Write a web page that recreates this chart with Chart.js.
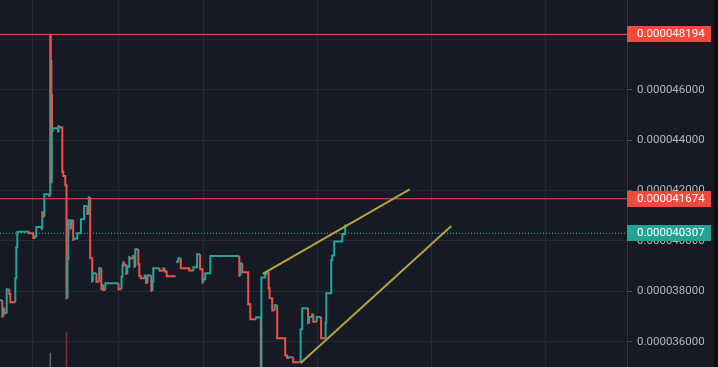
<!DOCTYPE html>
<html>
<head>
<meta charset="utf-8">
<script src="https://cdn.jsdelivr.net/npm/chart.js@4.4.1/dist/chart.umd.min.js"></script>
<style>
  html, body { margin: 0; padding: 0; background: #161a25; }
  canvas { display: block; }
</style>
</head>
<body>
<canvas id="chart" width="718" height="367"></canvas>
<script>
// prices are kept in units of 1e-9
const stepTimes = [
    0, 2.3, 3.3, 4.3, 6.7, 9.3, 10.3, 15.3, 16.3, 17.3,
    29.3, 33.3, 35.3, 36.3, 41.7, 42.3, 43, 44.3, 49.3, 50.3,
    50.7, 51, 51.4, 51.7, 52, 52.7, 58, 58.6, 59.6, 62.3,
    63.3, 65.3, 66.5, 67.5, 68.2, 70.3, 71.3, 73.2, 74.2, 77.3,
    80.9, 84.1, 87.3, 88.8, 90.2, 92.2, 92.8, 96.4, 99.2, 101.3,
    102.3, 103.3, 105.3, 118.5, 121.5, 122.5, 123.3, 124.3, 126.3, 127.3,
    129.3, 130.2, 133.2, 134.5, 135.3, 138.3, 139.3, 140.7, 144.7, 146,
    147.5, 151.3, 152.5, 153.3, 159.5, 163.3, 164.7, 166.7, 175.7, 176,
    178.3, 180.8, 189.2, 193.5, 197.1, 200.1, 202.5, 203.3, 205.2, 210.3,
    239.3, 240.3, 242.3, 248.2, 250.3, 256.1, 260.8, 261.4, 265.2,
    266.4, 268.6, 269.6, 272.2, 274.7, 277.2, 285.2, 287.2, 289, 293.2,
    300.6, 302.2, 308.1, 309.2, 312.2, 313.3, 316.7, 321.1, 325.6, 326.3,
    331.2, 332.2, 334.2, 342.3, 345.2
];
const stepPrices = [
    37647, 36996, 37330, 37131, 38083, 37897, 37568, 38520, 39750, 40369,
    40306, 40119, 40186, 40556, 40464, 41139, 40964, 41853, 41786, 48194,
    42301, 47182, 42301, 45833, 44337, 44472, 44337, 44563, 44512, 42750,
    42579, 42210, 37726, 39274, 40821, 40488, 40821, 40040, 40099, 40306,
    40861, 41389, 41071, 41734, 39314, 38385, 38718, 38385, 38917, 38083,
    38266, 38056, 38322, 38087, 38583, 39028, 39155, 39036, 38691, 38980,
    39377, 39306, 39405, 38968, 39671, 39075, 38611, 38520, 38631, 38333,
    38631, 38028, 38385, 38917, 38822, 38917, 38790, 38599, null, 39179,
    39314, 38917, 38829, 38956, 39472, 38877, 38345, 38480, 38718, 39400,
    38623, 39115, 38758, 37492, 36893, 36972, 34300, 38552, 38691,
    38770, 38123, 37726, 37242, 37449, 36139, 35457, 35357, 35385, 35187,
    36496, 37330, 36734, 36984, 37091, 36798, 36984, 36139, 36766, 37925,
    39234, 39425, 39980, 40278, 40615
];
const lastTime = 347.3;

const priceTicks = [36000, 38000, 40000, 42000, 44000, 46000, 48000];
const timeGrid = [32, 118, 203, 317, 431, 545];

const levelHigh = 48194;
const levelMid = 41674;
const lastPrice = 40307;

const trendUpper = [{ x: 262.7, y: 38691 }, { x: 409.7, y: 42051 }];
const trendLower = [{ x: 300.7, y: 35159 }, { x: 451.3, y: 40595 }];

const volTimes = [50.3, 66.5];
const volValues = [3.8, 9.5];
const volColors = ['#5d606b', '#7c2b30'];

const UP = '#22a69a';
const DOWN = '#f0504a';
const TIME_MAX = 627;

// ─── step points: vertical move then flat, coloured by the move ─────────────
const pricePoints = [];
stepPrices.forEach((p, i) => {
    const end = i + 1 < stepTimes.length ? stepTimes[i + 1] : lastTime;
    if (p !== null && (i === 0 || stepPrices[i - 1] === null)) {
        pricePoints.push({ x: stepTimes[i], y: p });
    }
    pricePoints.push({ x: end, y: p });
});

const flat = (v) => [{ x: 0, y: v }, { x: TIME_MAX, y: v }];
const fmt = (v) => (v * 1e-9).toFixed(9);

const priceTags = [
    { value: levelHigh, color: '#f04a3c' },
    { value: levelMid, color: '#f04a3c' },
    { value: lastPrice, color: '#22a394' }
];

const chartPlugin = {
    id: 'tvLook',
    beforeDraw(chart) {
        const { ctx, width, height } = chart;
        ctx.save();
        ctx.fillStyle = '#161a25';
        ctx.fillRect(0, 0, width, height);
        ctx.fillStyle = '#0d0f15';
        ctx.fillRect(714, 0, width - 714, height);
        ctx.restore();
    },
    afterDraw(chart) {
        const { ctx } = chart;
        const yScale = chart.scales.y;
        ctx.save();
        ctx.font = '11.5px Roboto';
        ctx.textBaseline = 'middle';
        priceTags.forEach(tag => {
            const y = Math.round(yScale.getPixelForValue(tag.value));
            ctx.fillStyle = tag.color;
            ctx.fillRect(yScale.left, y - 8, 84, 16);
            ctx.fillStyle = '#ffffff';
            ctx.fillText(fmt(tag.value), yScale.left + 10, y + 0.5);
        });
        ctx.restore();
    }
};

new Chart(document.getElementById('chart').getContext('2d'), {
    type: 'line',
    data: {
        datasets: [
            {
                data: trendUpper,
                borderColor: '#b4a43e',
                borderWidth: 2,
                pointRadius: 0,
                order: 0
            },
            {
                data: trendLower,
                borderColor: '#b4a43e',
                borderWidth: 2,
                pointRadius: 0,
                order: 0
            },
            {
                data: flat(levelHigh),
                borderColor: DOWN,
                borderWidth: 1,
                pointRadius: 0,
                order: 1
            },
            {
                data: flat(levelMid),
                borderColor: DOWN,
                borderWidth: 1,
                pointRadius: 0,
                order: 1
            },
            {
                data: flat(lastPrice),
                borderColor: '#2bb3a3',
                borderWidth: 1,
                borderDash: [1, 2],
                pointRadius: 0,
                order: 3
            },
            {
                data: pricePoints,
                stepped: 'after',
                borderWidth: 2,
                pointRadius: 0,
                spanGaps: false,
                segment: {
                    borderColor: c => c.p1.parsed.y < c.p0.parsed.y ? DOWN : UP
                },
                borderColor: UP,
                order: 2
            },
            {
                type: 'bar',
                data: volTimes.map((t, i) => ({ x: t, y: volValues[i] })),
                backgroundColor: volColors,
                barThickness: 1,
                yAxisID: 'yVol',
                order: 4
            }
        ]
    },
    options: {
        responsive: false,
        animation: false,
        devicePixelRatio: 1,
        layout: { padding: 0 },
        plugins: {
            legend: { display: false },
            tooltip: { enabled: false }
        },
        scales: {
            x: {
                type: 'linear',
                min: 0,
                max: TIME_MAX,
                offset: false,
                afterBuildTicks: s => { s.ticks = timeGrid.map(v => ({ value: v })); },
                grid: { color: '#242833', drawTicks: false, offset: false },
                border: { display: false },
                ticks: { display: false }
            },
            y: {
                position: 'right',
                min: 35000,
                max: 49560,
                afterBuildTicks: s => { s.ticks = priceTicks.map(v => ({ value: v })); },
                afterFit: s => {
                    s.width = 91;
                    s.paddingTop = 0;
                    s.paddingBottom = 0;
                },
                grid: { color: '#242833', tickColor: '#4a4e59', tickLength: 5 },
                border: { color: '#2f333e' },
                ticks: {
                    color: '#b2b5be',
                    padding: 5,
                    font: { family: 'Roboto', size: 11.5 },
                    callback: v => fmt(v)
                }
            },
            yVol: {
                display: false,
                min: 0,
                max: 100
            }
        }
    },
    plugins: [chartPlugin]
});
</script>
</body>
</html>
